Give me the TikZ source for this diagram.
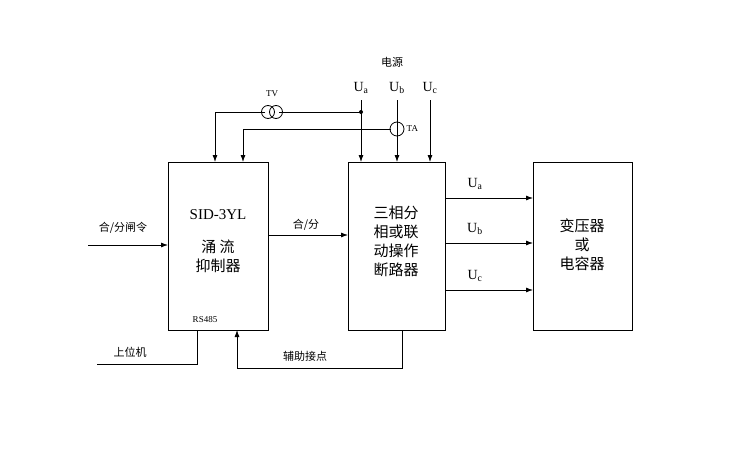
\documentclass[tikz,border=0pt]{standalone}
\usepackage{fontspec}
\setmainfont{Liberation Serif}
\newfontfamily\cjk{Noto Sans CJK SC}
\usetikzlibrary{arrows.meta}
\begin{document}
\begin{tikzpicture}[x=1pt,y=-1pt,line width=0.8pt,
  box/.style={draw,minimum width=100pt,minimum height=168pt,anchor=north west,inner sep=0},
  arr/.style={-{Latex[length=7pt,width=5pt]}},
  lbl/.style={font=\cjk\fontsize{15}{19}\selectfont,align=center},
  sm/.style={font=\cjk\fontsize{11}{13}\selectfont}]
\useasboundingbox (0,0) rectangle (750,450);
\node[box] (b1) at (168,162) {};
\node[box,minimum width=97pt] (b2) at (348,162) {};
\node[box,minimum width=99pt] (b3) at (533,162) {};
\node[lbl,font=\fontsize{15}{19}\selectfont] (t1) at (218,215) {SID-3YL};
\node[lbl] (t2) at (218,256) {涌\ 流\\抑制器};
\node[lbl] (t3) at (396,241) {三相分\\相或联\\动操作\\断路器};
\node[lbl] (t4) at (582,245) {变压器\\或\\电容器};
\node[font=\fontsize{9}{10}\selectfont] (rs) at (205,320) {RS485};
% input
\coordinate (in) at (88,245);
\draw[arr] (in) -- (in -| b1.west);
\node[sm] (l1) at (123,228) {合/分闸令};
\draw[arr] (268,235) -- (348,235);
\node[sm] (l2) at (306,225) {合/分};
% outputs
\foreach \y/\s [count=\i] in {198/a,243/b,290/c}{
  \draw[arr] (445,\y) -- (533,\y);
  \node[font=\fontsize{14}{16}\selectfont] (o\i) at (475,\y-14) {U\textsubscript{\s}};
}
% top sources
\node[sm] (ps) at (392,62) {电源};
\foreach \x/\s [count=\i] in {361/a,397/b,430/c}{
  \node[font=\fontsize{14}{16}\selectfont] (u\i) at (\x,88) {U\textsubscript{\s}};
  \draw[arr] (\x,100) -- (\x,162);
}
% TV
\coordinate (tvl) at (215,112);
\coordinate (tvr) at (361,112);
\draw (tvr) -- (279,112);
\draw (265,112) -- (tvl);
\draw[arr] (tvl) -- (215,162);
\draw (268,112) circle (6.5);
\draw (276,112) circle (6.5);
\node[font=\fontsize{9}{10}\selectfont] (tv) at (272,94) {TV};
\fill (tvr) circle (2);
% TA
\draw (391,129) -- (243,129);
\draw[arr] (243,129) -- (243,162);
\draw (397,129) circle (7);
\node[font=\fontsize{9}{10}\selectfont,anchor=west] (ta) at (403,129) {TA};
% bottom
\draw (97,364) -- (197,364) -- (197,330);
\node[sm] (pc) at (130,352) {上位机};
\draw[arr] (402,330) -- (402,368) -- (237,368) -- (237,330);
\node[sm] (aux) at (305,356) {辅助接点};
\end{tikzpicture}
\end{document}
